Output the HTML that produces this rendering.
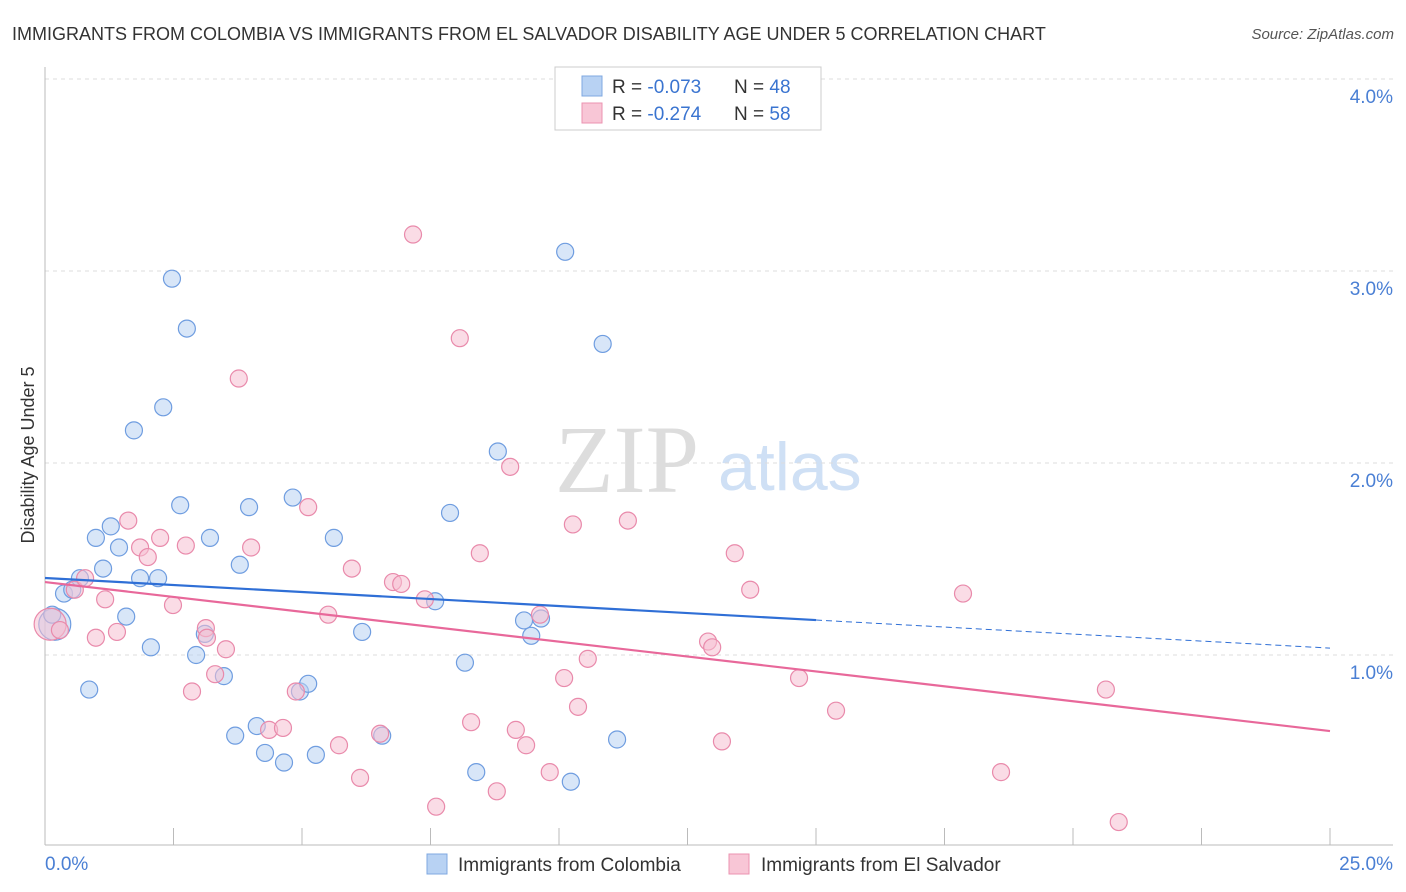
<!DOCTYPE html>
<html><head><meta charset="utf-8"><style>
body{margin:0;background:#fff;font-family:"Liberation Sans",sans-serif;}
svg{display:block}
</style></head><body>
<svg width="1406" height="892" viewBox="0 0 1406 892" xmlns="http://www.w3.org/2000/svg">
<text x="12" y="40" font-size="18" fill="#333">IMMIGRANTS FROM COLOMBIA VS IMMIGRANTS FROM EL SALVADOR DISABILITY AGE UNDER 5 CORRELATION CHART</text>
<text x="1394" y="39" font-size="15" fill="#555" font-style="italic" text-anchor="end">Source: ZipAtlas.com</text>
<g>
<text x="555" y="492" font-size="96" font-family="Liberation Serif,serif" fill="#ddd">ZIP</text>
<text x="718" y="490" font-size="68" fill="#cfe0f5">atlas</text>
</g>
<g id="grid"></g>
<g id="axes"></g>
<g id="pts"></g>
<g id="trend"></g>
<text transform="translate(34,455) rotate(-90)" font-size="18" fill="#333" text-anchor="middle">Disability Age Under 5</text>
<g>
<rect x="555" y="67" width="266" height="63" fill="#fff" stroke="#ccc"/>
<rect x="582" y="76" width="20" height="20" fill="#b8d2f3" stroke="#7fa8e0"/>
<rect x="582" y="103" width="20" height="20" fill="#f8c6d6" stroke="#eb93b0"/>
<text x="612" y="93" font-size="19" fill="#333">R = <tspan fill="#3a74d0">-0.073</tspan><tspan x="734">N = </tspan><tspan fill="#3a74d0">48</tspan></text>
<text x="612" y="120" font-size="19" fill="#333">R = <tspan fill="#3a74d0"> -0.274</tspan><tspan x="734">N = </tspan><tspan fill="#3a74d0">58</tspan></text>
</g>
<g>
<rect x="427" y="854" width="20" height="20" fill="#b8d2f3" stroke="#7fa8e0"/>
<text x="458" y="871" font-size="19" fill="#333">Immigrants from Colombia</text>
<rect x="729" y="854" width="20" height="20" fill="#f8c6d6" stroke="#eb93b0"/>
<text x="761" y="871" font-size="19" fill="#333">Immigrants from El Salvador</text>
</g>
</svg>
<script>
const yTicks=[1,2,3,4];
const yTickLabels=["1.0%","2.0%","3.0%","4.0%"];
const xTickVals=[0,2.5,5,7.5,10,12.5,15,17.5,20,22.5,25];
const colX=[0.19,0.14,0.37,0.53,0.68,0.86,0.99,1.13,1.28,1.44,1.58,1.85,2.06,2.20,1.73,2.30,2.47,2.76,2.63,2.94,3.11,3.21,3.48,3.70,3.79,3.97,4.12,4.28,4.65,4.82,4.96,5.12,5.27,5.62,6.17,6.56,7.59,7.88,8.17,8.39,8.81,9.32,9.46,9.65,10.12,10.23,10.85,11.13];
const colY=[1.16,1.21,1.32,1.34,1.40,0.82,1.61,1.45,1.67,1.56,1.20,1.40,1.04,1.40,2.17,2.29,2.96,2.70,1.78,1.00,1.11,1.61,0.89,0.58,1.47,1.77,0.63,0.49,0.44,1.82,0.81,0.85,0.48,1.61,1.12,0.58,1.28,1.74,0.96,0.39,2.06,1.18,1.10,1.19,3.10,0.34,2.62,0.56];
const salX=[0.10,0.29,0.58,0.78,0.99,1.17,1.40,1.62,1.85,2.00,2.24,2.49,2.74,2.86,3.13,3.15,3.31,3.52,3.77,4.01,4.36,4.63,4.88,5.12,5.51,5.72,5.97,6.13,6.52,6.77,6.93,7.16,7.39,7.61,8.07,8.29,8.46,8.79,9.05,9.16,9.36,9.63,9.82,10.10,10.27,10.37,10.56,11.34,12.90,12.98,13.17,13.42,13.72,14.67,15.39,17.86,18.60,20.64,20.89];
const salY=[1.16,1.13,1.34,1.40,1.09,1.29,1.12,1.70,1.56,1.51,1.61,1.26,1.57,0.81,1.14,1.09,0.90,1.03,2.44,1.56,0.61,0.62,0.81,1.77,1.21,0.53,1.45,0.36,0.59,1.38,1.37,3.19,1.29,0.21,2.65,0.65,1.53,0.29,1.98,0.61,0.53,1.21,0.39,0.88,1.68,0.73,0.98,1.70,1.07,1.04,0.55,1.53,1.34,0.88,0.71,1.32,0.39,0.82,0.13];
const colTrend=[1.401,-0.0146];
const salTrend=[1.380,-0.03104];
const NS="http://www.w3.org/2000/svg";
const X=v=>45+v/25*1285, Y=v=>847-v*192;
function mk(t,a,p){const e=document.createElementNS(NS,t);for(const k in a)e.setAttribute(k,a[k]);p.appendChild(e);return e;}
const grid=document.getElementById('grid'),axes=document.getElementById('axes');
yTicks.forEach((t,i)=>{
 const l=mk('line',{x1:45,x2:1393,y1:Y(t),y2:Y(t),stroke:'#ddd','stroke-dasharray':'4,4'},grid);
 
 
 const tx=mk('text',{x:1393,y:Y(t)+24,'font-size':19,fill:'#4a7fd4','text-anchor':'end'},axes);
 tx.textContent=yTickLabels[i];
 
 
});
mk('line',{x1:45,x2:1393,y1:79-8,y2:79-8,stroke:'#fff'},grid);
mk('line',{x1:45,x2:45,y1:67,y2:845,stroke:'#bbb'},axes);
mk('line',{x1:45,x2:1393,y1:845,y2:845,stroke:'#bbb'},axes);
xTickVals.forEach(v=>{const t=mk('line',{x1:X(v),x2:X(v),y1:828,y2:845,stroke:'#bbb'},axes);
 
 });
const a0=mk('text',{x:45,y:870,'font-size':19,fill:'#4a7fd4'},axes);a0.textContent='0.0%';


const a1=mk('text',{x:1393,y:870,'font-size':19,fill:'#4a7fd4','text-anchor':'end'},axes);a1.textContent='25.0%';


const pts=document.getElementById('pts');
function series(xs,ys,fill,stroke,name){xs.forEach((x,i)=>{
 const r=i===0?16:8.5;
 const c=mk('circle',{cx:X(x),cy:Y(ys[i]),r:r,fill:fill,'fill-opacity':0.55,stroke:stroke,'stroke-width':1.2},pts);
 
 
});}
series(colX,colY,'#b8d2f3','#6f9de0','point-colombia');
series(salX,salY,'#f6bfd1','#e98aab','point-elsalvador');
const tr=document.getElementById('trend');
const lc=mk('line',{x1:X(0),y1:Y(colTrend[0]),x2:X(15),y2:Y(colTrend[0]+colTrend[1]*15),stroke:'#2f6fd6','stroke-width':2.2},tr);


const ld=mk('line',{x1:X(15),y1:Y(colTrend[0]+colTrend[1]*15),x2:X(25),y2:Y(colTrend[0]+colTrend[1]*25),stroke:'#2f6fd6','stroke-width':1,'stroke-dasharray':'6,4'},tr);


const ls=mk('line',{x1:X(0),y1:Y(salTrend[0]),x2:X(25),y2:Y(salTrend[0]+salTrend[1]*25),stroke:'#e8689a','stroke-width':2.2},tr);


</script>
</body></html>
